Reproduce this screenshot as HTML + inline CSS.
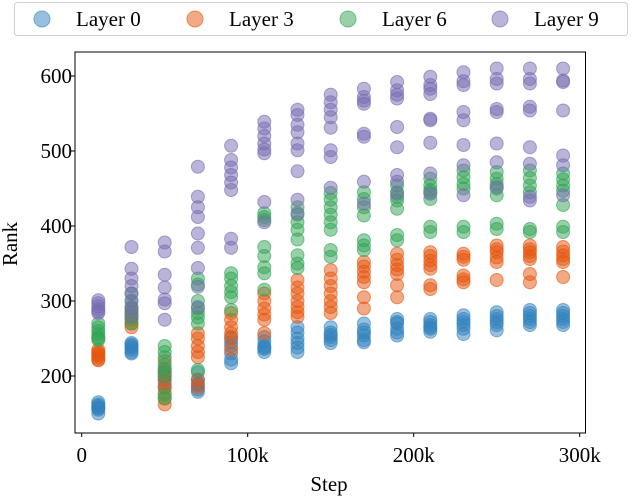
<!DOCTYPE html>
<html><head><meta charset="utf-8"><style>
html,body{margin:0;padding:0;background:#fff;}
svg{display:block;font-family:"Liberation Serif",serif;}
</style></head><body>
<svg id="chart" width="632" height="496" viewBox="0 0 632 496">
<rect x="0" y="0" width="632" height="496" fill="#fff"/>
<g id="legend">
<rect x="14.5" y="2.5" width="613" height="33" rx="3" fill="#fff" stroke="#d0d0d0"/>
</g>
<g id="marks"></g>
<g id="axes"></g>
</svg>
<script>
const steps = [10,30,50,70,90,110,130,150,170,190,210,230,250,270,290];
const layerNames = ["Layer 0","Layer 3","Layer 6","Layer 9"];
const layer0 = [
 [165,160,158,155,150,162,157],
 [244,240,238,235,232,230,242],
 [210,200,195,190,185,205],
 [205,195,188,182,179,190],
 [252,245,240,230,222,217],
 [252,246,240,236,232,238],
 [265,258,250,244,238,232],
 [265,258,252,248,244,255],
 [270,262,254,248,245,258],
 [276,270,263,258,254,272],
 [276,272,268,263,259,265],
 [281,276,272,268,263,256],
 [285,280,276,272,268,261],
 [288,284,280,276,272,268],
 [288,284,280,276,272,268]
];
const layer3 = [
 [235,232,230,228,225,222,221],
 [290,285,280,275,270,265],
 [220,205,195,185,178,170,162],
 [257,250,240,232,225,195,185],
 [284,275,265,257,250,235],
 [310,300,290,282,275,257],
 [328,318,310,300,292,285,279],
 [341,330,320,310,300,292,284],
 [352,346,339,332,325,305,290],
 [363,355,348,342,336,321,305],
 [365,360,354,348,343,321,316],
 [363,359,355,334,329,325],
 [374,369,365,358,352,328],
 [374,369,365,360,356,336,325],
 [372,366,361,356,352,332]
];
const layer6 = [
 [270,265,260,256,252,250,248],
 [310,300,292,285,278,270],
 [240,232,225,215,208,200,175,170],
 [330,322,300,290,284,278,270,208],
 [337,330,320,312,305,288],
 [417,412,408,372,360,345,337,315],
 [425,415,405,395,382,361,350,344],
 [444,435,425,415,405,395,368,359],
 [445,436,425,414,381,374,368],
 [454,445,439,434,423,388,381],
 [463,454,448,445,436,399,392],
 [474,465,456,450,399,392],
 [472,463,456,450,441,403,396],
 [474,464,454,445,396,392],
 [470,462,454,447,428,399,392]
];
const layer9 = [
 [301,297,293,289,286,284],
 [372,343,330,320,310,300,290,280],
 [378,366,335,318,302,297,275],
 [479,439,425,412,390,371,344,319,292],
 [507,488,478,468,458,448,383,371],
 [539,530,520,510,502,497,432,405],
 [555,548,535,525,510,501,473,435,417],
 [575,565,555,545,531,501,492,451],
 [583,572,567,563,523,519,459,430],
 [592,581,575,570,532,505,468,459,443],
 [599,588,583,576,543,541,511,470,443],
 [605,593,588,552,541,508,481,441],
 [610,596,590,556,552,510,485,452],
 [610,596,590,559,554,505,483,439,434],
 [610,594,592,554,494,481,441]
];
const layers = [layer0, layer3, layer6, layer9];
const colors = ["#3182bd","#e6550d","#31a354","#756bb1"];
const xTicks = [0,100,200,300];
const xTickLabels = ["0","100k","200k","300k"];
const yTicks = [200,300,400,500,600];

const NS="http://www.w3.org/2000/svg";
const L=75, R=585.5, T=52, B=433;
function xs(k){return 81.7 + k*1.66;}
function ys(v){return 76 + (600-v)*0.75;}
function mk(tag, attrs, parent){const e=document.createElementNS(NS,tag);for(const k in attrs)e.setAttribute(k,attrs[k]);parent.appendChild(e);return e;}

const marks=document.getElementById('marks');
layers.forEach((lay,li)=>{
  const g=mk('g',{},marks);
  
  
  lay.forEach((vals,si)=>{
    vals.forEach(v=>{
      const c=mk('circle',{cx:xs(steps[si]),cy:ys(v),r:6.5,fill:colors[li],'fill-opacity':0.5,stroke:colors[li],'stroke-opacity':0.6,'stroke-width':1},g);
      
      
    });
  });
});

const axes=document.getElementById('axes');
const frame=mk('rect',{x:L,y:T,width:R-L,height:B-T,fill:'none',stroke:'#000','stroke-width':1},axes);


xTicks.forEach((t,i)=>{
  const x=xs(t);
  mk('line',{x1:x,y1:B,x2:x,y2:B+4,stroke:'#000','stroke-width':1},axes);
  const tx=mk('text',{x:x,y:462,'text-anchor':'middle','font-size':21},axes);
  tx.textContent=xTickLabels[i];
  
  
});
yTicks.forEach(t=>{
  const y=ys(t);
  mk('line',{x1:L-4,y1:y,x2:L,y2:y,stroke:'#000','stroke-width':1},axes);
  const tx=mk('text',{x:L-3,y:y+7,'text-anchor':'end','font-size':21},axes);
  tx.textContent=String(t);
  
  
});
const xl=mk('text',{x:329,y:491,'text-anchor':'middle','font-size':21},axes);
xl.textContent='Step';


const yl=mk('text',{x:0,y:0,'text-anchor':'middle','font-size':21,transform:'translate(17,244) rotate(-90)'},axes);
yl.textContent='Rank';



const legend=document.getElementById('legend');
const lx=[42,195,348,500];
layerNames.forEach((n,i)=>{
  const g=mk('g',{},legend);
  
  
  mk('circle',{cx:lx[i],cy:19,r:8,fill:colors[i],'fill-opacity':0.5,stroke:colors[i],'stroke-opacity':0.6},g);
  const t=mk('text',{x:lx[i]+34,y:26,'font-size':21},g);
  t.textContent=n;
});
</script>
</body></html>
